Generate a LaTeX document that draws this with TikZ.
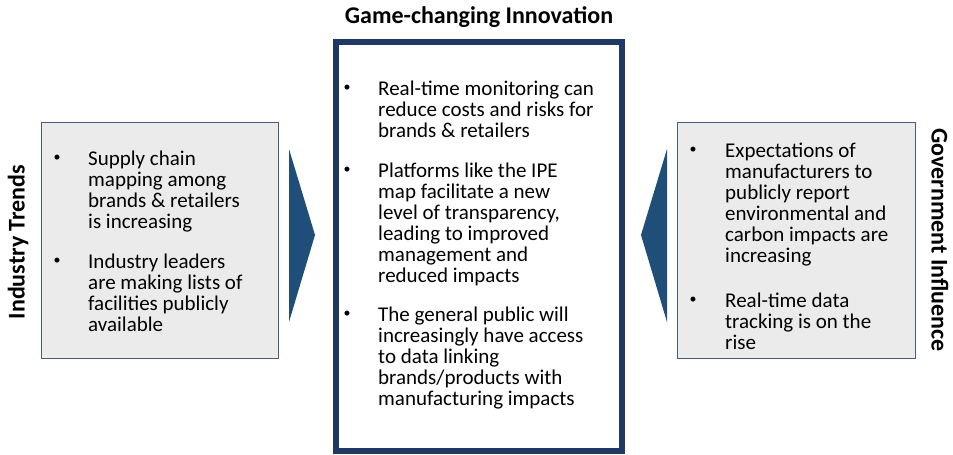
\documentclass[tikz,border=0pt]{standalone}
\usepackage{fontspec}
\setmainfont{Carlito}
\definecolor{navy}{HTML}{203864}
\definecolor{arrowblue}{HTML}{1F4E79}
\definecolor{boxgray}{HTML}{EBEBEB}
\definecolor{boxline}{HTML}{4A5C7A}
\newcommand{\lines}[1]{\parbox[t]{240pt}{\fontsize{21}{21}\selectfont #1}}
\begin{document}
\begin{tikzpicture}[x=1pt,y=-1pt,
  body/.style={inner sep=0pt, anchor=base west},
  bul/.style={font=\fontsize{14}{14}\selectfont, inner sep=0pt, anchor=center, yshift=7pt},
  sidebox/.style={draw=boxline, line width=1pt, fill=boxgray},
  label/.style={font=\fontsize{24}{26}\selectfont\bfseries, inner sep=0pt}]
\useasboundingbox (0,0) rectangle (953,455);
% side boxes
\draw[sidebox] (41,122) rectangle (278,358);
\draw[sidebox] (677,122) rectangle (915,358);
% arrows
\fill[arrowblue] (289,149) -- (315,235) -- (289,322) -- cycle;
\fill[arrowblue] (667,149) -- (641,235) -- (667,322) -- cycle;
% center box
\draw[navy, line width=6pt] (336,42) rectangle (622,451);
% titles
\node[label] (title) at (479,17) {Game-changing Innovation};
\node[label, rotate=90] (lefttitle) at (18,242) {Industry Trends};
\node[label, rotate=-90] (righttitle) at (940,240) {Government Influence};
% left box text
\node[bul] (lb1) at (57,165) {•};
\node[body] (lt1) at (88,165) {\lines{Supply chain\\mapping among\\brands \& retailers\\is increasing}};
\node[bul] (lb2) at (57,268) {•};
\node[body] (lt2) at (88,268) {\lines{Industry leaders\\are making lists of\\facilities publicly\\available}};
% center text
\node[bul] (cb1) at (347,95) {•};
\node[body] (ct1) at (378,95) {\lines{Real-time monitoring can\\reduce costs and risks for\\brands \& retailers}};
\node[bul] (cb2) at (347,177) {•};
\node[body] (ct2) at (378,177) {\lines{Platforms like the IPE\\map facilitate a new\\level of transparency,\\leading to improved\\management and\\reduced impacts}};
\node[bul] (cb3) at (347,321) {•};
\node[body] (ct3) at (378,321) {\lines{The general public will\\increasingly have access\\to data linking\\brands/products with\\manufacturing impacts}};
% right text
\node[bul] (rb1) at (693,157) {•};
\node[body] (rt1) at (725,157) {\lines{Expectations of\\manufacturers to\\publicly report\\environmental and\\carbon impacts are\\increasing}};
\node[bul] (rb2) at (693,307) {•};
\node[body] (rt2) at (725,307) {\lines{Real-time data\\tracking is on the\\rise}};
\end{tikzpicture}
\end{document}
